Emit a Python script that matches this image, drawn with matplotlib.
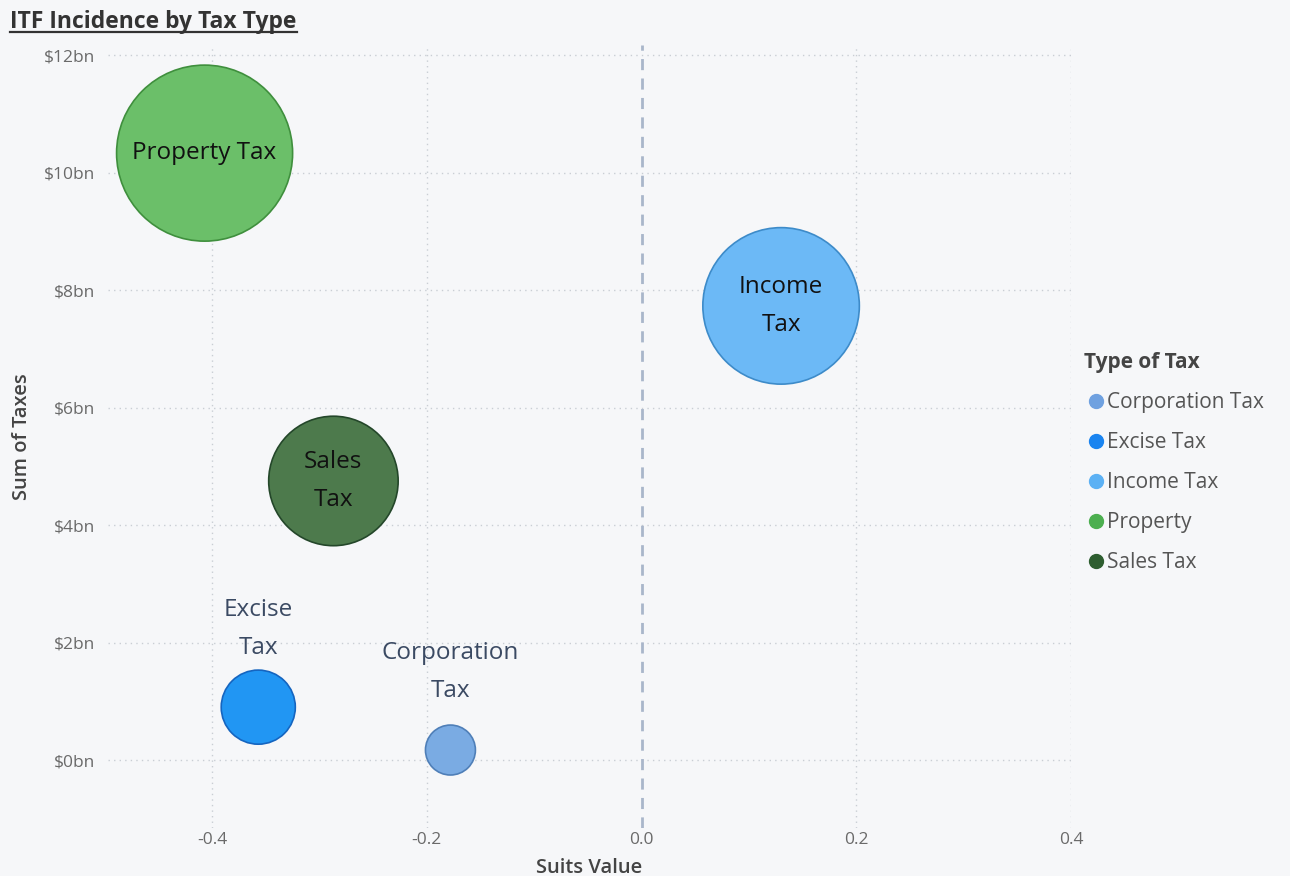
import numpy as np
import matplotlib.pyplot as plt
from matplotlib.lines import Line2D

# data
tax_types = ['Corporation Tax', 'Excise Tax', 'Income Tax', 'Property', 'Sales Tax']
bubble_labels = ['Corporation\nTax', 'Excise\nTax', 'Income\nTax', 'Property Tax', 'Sales\nTax']
suits_value = [-0.178, -0.357, 0.130, -0.407, -0.287]
sum_of_taxes = [0.17, 0.90, 7.73, 10.33, 4.75]  # [bn $]
y_ticks = [0, 2, 4, 6, 8, 10, 12]
x_ticks = [-0.4, -0.2, 0.0, 0.2, 0.4]

fill_colors = ['#7AABE3', '#2196F3', '#6CB9F6', '#6BBF69', '#4D7A4C']
edge_colors = ['#4F7FB8', '#1565C0', '#3D8BC9', '#3F8F3D', '#24472A']
legend_colors = ['#6FA1E0', '#1A84F0', '#5CB1F4', '#4CAF50', '#2E5E30']
label_inside = [False, False, True, True, True]

bg = '#F6F7F9'
plt.rcParams['font.family'] = ['Open Sans', 'DejaVu Sans']

fig = plt.figure(figsize=(12.9, 8.76), dpi=100, facecolor=bg)
ax = fig.add_axes([0.0837, 0.0548, 0.7465, 0.8938], facecolor=bg)

# bubble radius in pixels, Power BI style with a minimum size
radius_px = 15.7 + 22.5 * np.sqrt(np.array(sum_of_taxes))
sizes = (2 * radius_px * 0.72) ** 2

ax.scatter(suits_value, sum_of_taxes, s=sizes, c=fill_colors,
           edgecolors=edge_colors, linewidths=1.2, zorder=3)

for i, lab in enumerate(bubble_labels):
    if label_inside[i]:
        ax.text(suits_value[i], sum_of_taxes[i], lab, ha='center', va='center',
                fontsize=17.5, color='#111111', zorder=4, linespacing=1.75)
    else:
        # labels of small bubbles sit at a fixed offset above the centre
        ax.annotate(lab, (suits_value[i], sum_of_taxes[i]),
                    xytext=(0, 34), textcoords='offset points',
                    ha='center', va='bottom', fontsize=17.5, color='#3B4A63',
                    zorder=4, linespacing=1.75)

ax.set_xlim(-0.497, 0.4)
ax.set_ylim(-1.157, 12.17)
ax.set_xticks(x_ticks)
ax.set_xticklabels([f'{t:.1f}' for t in x_ticks])
ax.set_yticks(y_ticks)
ax.set_yticklabels([f'${t}bn' for t in y_ticks])
ax.tick_params(axis='both', length=0, labelsize=12.5, colors='#6A6A6A')
ax.tick_params(axis='y', pad=9)
ax.tick_params(axis='x', pad=3)

for s in ax.spines.values():
    s.set_visible(False)

# grid
for t in y_ticks:
    ax.axhline(t, color='#C9CED4', linestyle=(0, (1, 3)), linewidth=1, zorder=1)
for t in x_ticks:
    if t == 0:
        ax.axvline(t, color='#A9B6CA', linestyle=(0, (4, 3)), linewidth=2, zorder=1)
    else:
        ax.axvline(t, color='#C9CED4', linestyle=(0, (1, 3)), linewidth=1, zorder=1)

ax.set_xlabel('Suits Value', fontsize=14.5, color='#444444', fontweight='semibold', labelpad=7)
ax.set_ylabel('Sum of Taxes', fontsize=14.5, color='#444444', fontweight='semibold', labelpad=9)

# legend
handles = [Line2D([0], [0], marker='o', linestyle='', markersize=10,
                  markerfacecolor=c, markeredgecolor=c) for c in legend_colors]
leg = fig.legend(handles, tax_types, title='Type of Tax', loc='upper left',
                 bbox_to_anchor=(0.826, 0.62), frameon=False, fontsize=15,
                 title_fontsize=15, handletextpad=0.0, labelspacing=0.92,
                 handlelength=1.1, labelcolor='#555555')
leg.get_title().set_fontweight('bold')
leg.get_title().set_color('#444444')
leg._legend_box.align = 'left'

# title with underline
title = fig.text(0.008, 0.975, 'ITF Incidence by Tax Type', fontsize=16.5,
                 fontweight='bold', color='#333333', ha='left', va='center')
fig.canvas.draw()
bb = title.get_window_extent().transformed(fig.transFigure.inverted())
fig.add_artist(Line2D([bb.x0, bb.x1], [bb.y0 + 0.002, bb.y0 + 0.002],
                      color='#333333', linewidth=1.6, transform=fig.transFigure))

plt.savefig('out.png', dpi=100, facecolor=bg)
